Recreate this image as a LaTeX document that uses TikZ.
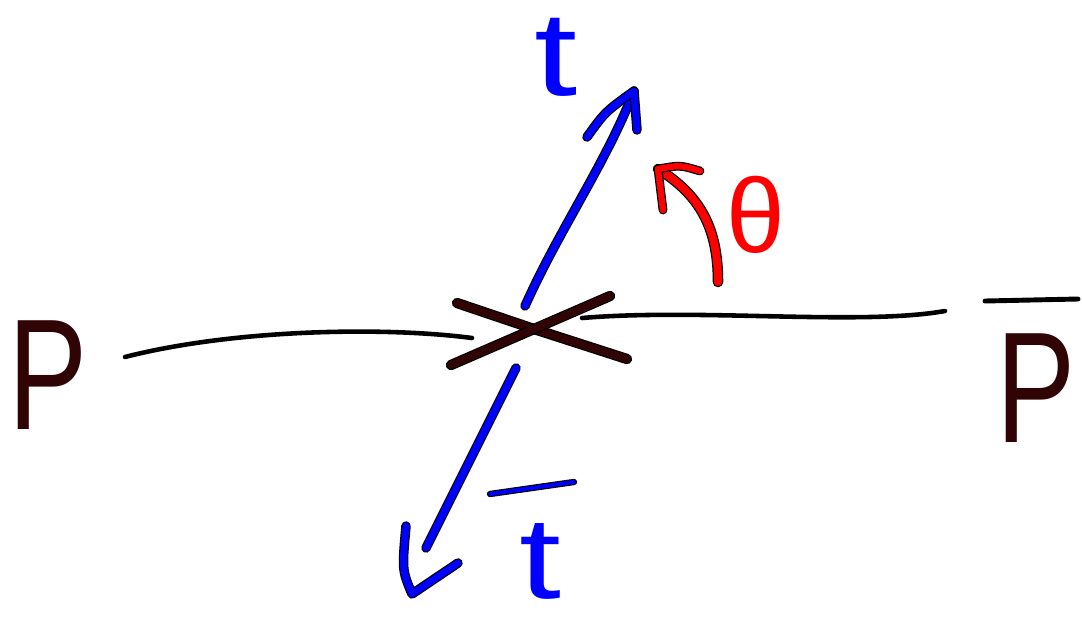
\documentclass[tikz,border=0pt]{standalone}
\usepackage{fontspec}
\setmainfont{Liberation Sans}
\usepackage{graphicx}
\definecolor{ink}{RGB}{48,4,4}
\begin{document}
\begin{tikzpicture}[x=0.02cm,y=-0.02cm,
	letter/.style={inner sep=0pt,font=\fontsize{#1}{#1}\selectfont},
	stroke/.style={draw=black,line width=0.7pt,double=#1,double distance=4pt,line cap=round,line join=round},
	wire/.style={draw=black,line width=2.6pt,line cap=round}]
	\useasboundingbox (0,0) rectangle (1082,627);
	% letters
	\node[letter=90,text=ink] (P) at (48,375) {\scalebox{0.75}[1]{P}};
	\node[letter=90,text=ink] (Pbar) at (1036,388) {\scalebox{0.75}[1]{P}};
	\node[letter=68,text=blue] (t) at (556,57) {\scalebox{1.3}[1]{t}};
	\node[letter=66,text=blue] (tbar) at (540,561) {\scalebox{1.3}[1]{t}};
	\node[letter=60,text=red] (theta) at (756,215) {θ};
	% bars
	\draw[stroke=blue,double distance=2.2pt] (490,494) -- (574,482);
	\draw[wire,line width=2.8pt] (985,301) -- (1078,299);
	% crossing
	\coordinate (x0) at (534,329);
	\coordinate (pl) at (125,357);
	\coordinate (xl) at (472,338);
	\coordinate (xr) at (582,318);
	\coordinate (pr) at (945,311);
	\draw[wire] (pl) .. controls (230,330) and (380,326) .. (xl);
	\draw[wire] (xr) .. controls (700,308) and (860,326) .. (pr);
	\draw[stroke=ink,double distance=4.5pt] (457,303) -- (x0) -- (627,359);
	\draw[stroke=ink,double distance=4.5pt] (610,296) -- (x0) -- (451,365);
	% t arrow
	\coordinate (tu) at (525,306);
	\coordinate (ut) at (634,91);
	\draw[stroke=blue] (tu) .. controls (560,228) and (605,165) .. (ut);
	\draw[stroke=blue] (587,137) .. controls (605,112) .. (ut) -- (637,130);
	% tbar arrow
	\coordinate (td) at (516,368);
	\coordinate (dt) at (426,548);
	\draw[stroke=blue] (td) .. controls (485,430) .. (dt);
	\draw[stroke=blue] (406,526) .. controls (402,570) .. (412,594) -- (458,563);
	% theta arrow
	\coordinate (ta) at (718,282);
	\coordinate (at) at (658,169);
	\draw[stroke=red,double distance=4.6pt] (ta) .. controls (718,228) and (700,195) .. (at);
	\draw[stroke=red,double distance=3.6pt] (663,210) -- (at) .. controls (680,165) .. (700,171);
\end{tikzpicture}
\end{document}
